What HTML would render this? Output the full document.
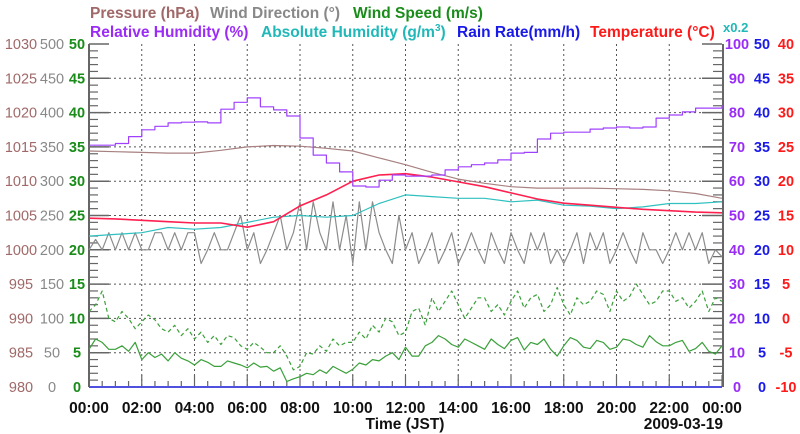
<!DOCTYPE html>
<html><head><meta charset="utf-8"><style>
html,body{margin:0;padding:0;background:#fff;}
svg{display:block;font-family:"Liberation Sans",sans-serif;}
</style></head><body>
<svg id="chart" width="800" height="434" viewBox="0 0 800 434" xmlns="http://www.w3.org/2000/svg">
<g font-weight="bold" font-size="15.5">
<text x="90" y="18" fill="#a06868">Pressure (hPa)</text>
<text x="210" y="18" fill="#888">Wind Direction (°)</text>
<text x="353" y="18" fill="#1a8c1a">Wind Speed (m/s)</text>
<text x="90" y="37" fill="#9a2cf5">Relative Humidity (%)</text>
<text x="261" y="37" fill="#20b8b8">Absolute Humidity (g/m<tspan font-size="10" dy="-6">3</tspan><tspan dy="6">)</tspan></text>
<text x="457" y="37" fill="#1a1ae8">Rain Rate(mm/h)</text>
<text x="590" y="37" fill="#ff1a1a">Temperature (°C)</text>
<text x="723" y="32" font-size="13" fill="#20b8b8">x0.2</text>
</g>
<g id="grid"></g>
<g id="axes"></g>
<g id="series"></g>
<g id="labels"></g>
<text x="405" y="429" text-anchor="middle" font-weight="bold" font-size="15.5" fill="#111">Time (JST)</text>
<text x="723" y="429" text-anchor="end" font-weight="bold" font-size="15.5" fill="#111">2009-03-19</text>
</svg>
<script>
const hourlyTimes = [0,1,2,3,4,5,6,7,8,9,10,11,12,13,14,15,16,17,18,19,20,21,22,23,24];
const pressure = [1014.4,1014.3,1014.2,1014.1,1014.1,1014.5,1015.0,1015.2,1015.1,1014.8,1014.4,1013.4,1012.4,1011.3,1010.3,1009.7,1009.2,1009.0,1009.0,1009.0,1008.9,1008.8,1008.6,1008.2,1007.5];
const temperature = [14.6,14.5,14.3,14.1,13.9,13.9,13.3,14.1,16.4,18.0,20.0,20.9,21.1,20.6,19.9,19.2,18.3,17.4,16.8,16.5,16.2,15.9,15.7,15.5,15.4];
const absHumidity = [8.8,8.9,9.0,9.3,9.2,9.3,9.6,9.9,10.0,9.9,10.0,10.7,11.2,11.1,11.0,11.0,10.8,10.9,10.6,10.55,10.4,10.5,10.7,10.7,10.8];
const halfTimes = [0,0.5,1,1.5,2,2.5,3,3.5,4,4.5,5,5.5,6,6.5,7,7.5,8,8.5,9,9.5,10,10.5,11,11.5,12,12.5,13,13.5,14,14.5,15,15.5,16,16.5,17,17.5,18,18.5,19,19.5,20,20.5,21,21.5,22,22.5,23,23.5,24];
const relHumidity = [70.5,70.5,71,73,75,76,77,77.2,77.3,77,81,83,84.3,81.7,80.8,79,72.6,67.6,65.3,62.7,58.6,58.3,60.3,61.8,61.5,61.5,61.8,63.3,64.2,64.8,65.3,66.2,68.2,68.4,72.3,74,74.3,74.3,75.2,75.5,75.8,75.5,75.8,78.4,79.3,80.2,81.3,81.3,82.2];
const windSpeed = [5.5,7.0,6.5,5.5, 5.5,6.0,5.2,6.5, 4.0,5.0,4.3,4.8, 3.8,5.0,4.2,3.8, 3.2,4.0,3.6,3.0, 3.0,3.8,3.5,3.2, 2.8,3.5,2.9,3.0, 2.3,2.8,0.8,1.2, 1.5,2.0,1.8,2.5, 2.0,3.0,2.5,2.0, 2.6,3.5,3.2,4.0, 3.8,4.5,5.0,4.0, 5.8,4.5,4.5,6.0, 6.5,7.5,7.0,6.2, 5.8,7.0,6.5,6.0, 5.5,7.0,6.2,5.6, 6.8,7.2,5.4,6.5, 6.2,7.0,5.5,4.5, 6.0,7.2,6.8,5.8, 5.6,6.8,6.5,5.5, 5.8,7.0,6.8,6.2, 5.8,7.5,6.6,6.0, 6.0,6.5,6.8,5.2, 5.6,6.5,5.2,4.8, 6.0];
const windGust = [11,12,14,10, 9.5,11,10,8.5, 9.5,10.5,9.8,8.5, 8,9,7.5,8.5, 7,8,6.5,7.5, 6.2,7.5,7.2,6, 5.5,6.5,5.8,5, 5,6,4.5,2.5, 3,5,4.8,6, 5.2,7,6,6.5, 6.5,8,7,9, 8,10,9.5,7.5, 8,11,11.5,9, 13,11,12.5,14, 12,10,11.5,13, 13,11,12,10.5, 12.5,14,11.5,13, 13.5,11,12,14.5, 12,10.5,13,12, 12.5,14,13.5,11, 14,12.5,13.2,15, 13.5,12,12.5,14, 14,12.5,13,11.5, 12.5,14,11,13, 12.5];
const windDirection = [200,215,200,225,200,225,200,225,200,200,225,225,200,225,200,225,225,180,200,225,200,200,225,250,200,225,180,200,225,250,200,225,270,200,270,225,200,270,200,250,180,270,200,270,225,200,180,250,200,225,180,200,225,180,200,225,180,200,225,200,180,225,200,180,225,200,180,225,200,225,180,200,180,200,225,180,225,200,225,180,200,225,200,180,225,200,200,180,200,225,200,225,200,225,180,200,190];
const rainRate = [0,0];
const rainTimes = [0,24];
const xTickLabels = ["00:00","02:00","04:00","06:00","08:00","10:00","12:00","14:00","16:00","18:00","20:00","22:00","00:00"];
const pressureTicks = [980,985,990,995,1000,1005,1010,1015,1020,1025,1030];
const dirTicks = [0,50,100,150,200,250,300,350,400,450,500];
const speedTicks = [0,5,10,15,20,25,30,35,40,45,50];
const rhTicks = [0,10,20,30,40,50,60,70,80,90,100];
const rainTicks = [0,5,10,15,20,25,30,35,40,45,50];
const tempTicks = [-10,-5,0,5,10,15,20,25,30,35,40];

const NS="http://www.w3.org/2000/svg";
const X0=89,X1=722,Y0=387,Y1=44;
function xs(t){return X0+t*(X1-X0)/24;}
function lin(min,max){return v=>Y0-(v-min)/(max-min)*(Y0-Y1);}
const yP=lin(980,1030),yD=lin(0,500),yS=lin(0,50),yRH=lin(0,100),yR=lin(0,50),yT=lin(-10,40);
const yAH=v=>yRH(v*5);
function mk(tag,attrs,parent){const e=document.createElementNS(NS,tag);for(const k in attrs)e.setAttribute(k,attrs[k]);parent.appendChild(e);return e;}
const grid=document.getElementById('grid'),axes=document.getElementById('axes'),series=document.getElementById('series'),labels=document.getElementById('labels');
for(let i=1;i<10;i++){const y=Y0-i*(Y0-Y1)/10;const l=mk('line',{x1:X0,x2:X1,y1:y,y2:y,stroke:'#555','stroke-dasharray':'2,3','stroke-width':1},grid);

}
for(let i=1;i<12;i++){const x=xs(i*2);const l=mk('line',{x1:x,x2:x,y1:Y1,y2:Y0,stroke:'#555','stroke-dasharray':'2,3','stroke-width':1},grid);

}
let al=mk('line',{x1:X0,x2:X0,y1:Y1,y2:Y0,stroke:'#666','stroke-width':2},axes);


let ar=mk('line',{x1:X1+1,x2:X1+1,y1:Y1,y2:Y0,stroke:'#666','stroke-width':2},axes);


for(let i=0;i<=50;i++){const y=Y0-i*(Y0-Y1)/50;const maj=i%5==0;const len=maj?20:9;
const t1=mk('line',{x1:X0,x2:X0+len,y1:y,y2:y,stroke:'#666','stroke-width':maj?1.5:1.2},axes);


const t2=mk('line',{x1:X1,x2:X1-len,y1:y,y2:y,stroke:'#666','stroke-width':maj?1.5:1.2},axes);

}
for(let i=0;i<=48;i++){const x=xs(i/2);const maj=i%4==0;
const t=mk('line',{x1:x,x2:x,y1:Y0,y2:Y0-(maj?12:6),stroke:'#666','stroke-width':1.2},axes);

}
let ab=mk('line',{x1:X0,x2:X1,y1:Y0,y2:Y0,stroke:'#666','stroke-width':2},axes);


function path(ts,vs,yf,attrs,name,step){let d='';for(let i=0;i<ts.length;i++){const x=xs(ts[i]).toFixed(1),y=yf(vs[i]).toFixed(1);
if(i&&step){d+='L'+x+','+yf(vs[i-1]).toFixed(1);}
d+=(i?'L':'M')+x+','+y;}
const p=mk('path',Object.assign({d:d,fill:'none','stroke-width':1.2,'stroke-linejoin':'round'},attrs),series);

return p;}
const qTimes=windDirection.map((_,i)=>i/4);
const sTimes=windSpeed.map((_,i)=>i/4);
const gTimes=windGust.map((_,i)=>i/4);
path(qTimes,windDirection,yD,{stroke:'#8c8c8c'},'wind-direction-line');
path(gTimes,windGust,yS,{stroke:'#3aa03a','stroke-dasharray':'4,3'},'wind-gust-line');
path(sTimes,windSpeed,yS,{stroke:'#3aa03a'},'wind-speed-line');
path(hourlyTimes,pressure,yP,{stroke:'#a88080'},'pressure-line');
path(hourlyTimes,absHumidity,yAH,{stroke:'#30c0c0'},'absolute-humidity-line');
path(hourlyTimes,temperature,yT,{stroke:'#ff2050','stroke-width':1.6},'temperature-line');
path(halfTimes,relHumidity,yRH,{stroke:'#a040ff'},'relative-humidity-line',true);
path(rainTimes,rainRate,yR,{stroke:'#5050e0','stroke-width':2},'rain-rate-line');
function axisLabels(ticks,yf,x,color,bold,name){ticks.forEach(v=>{const t=mk('text',{x:x,y:yf(v)+5,'text-anchor':'middle','font-size':14.5,fill:color,'font-weight':bold?'bold':'normal'},labels);t.textContent=v;

});}
axisLabels(pressureTicks,yP,21,'#a06868',false,'pressure-tick-label');
axisLabels(dirTicks,yD,52,'#888',false,'wind-direction-tick-label');
axisLabels(speedTicks,yS,77,'#1a8c1a',true,'wind-speed-tick-label');
axisLabels(rhTicks,yRH,737,'#9a2cf5',true,'humidity-tick-label');
axisLabels(rainTicks,yR,762,'#1a1ae8',true,'rain-tick-label');
axisLabels(tempTicks,yT,786,'#ff1a1a',true,'temperature-tick-label');
xTickLabels.forEach((s,i)=>{const t=mk('text',{x:xs(i*2),y:413,'text-anchor':'middle','font-size':15.5,'font-weight':'bold',fill:'#111'},labels);t.textContent=s;

});
</script>
</body></html>
